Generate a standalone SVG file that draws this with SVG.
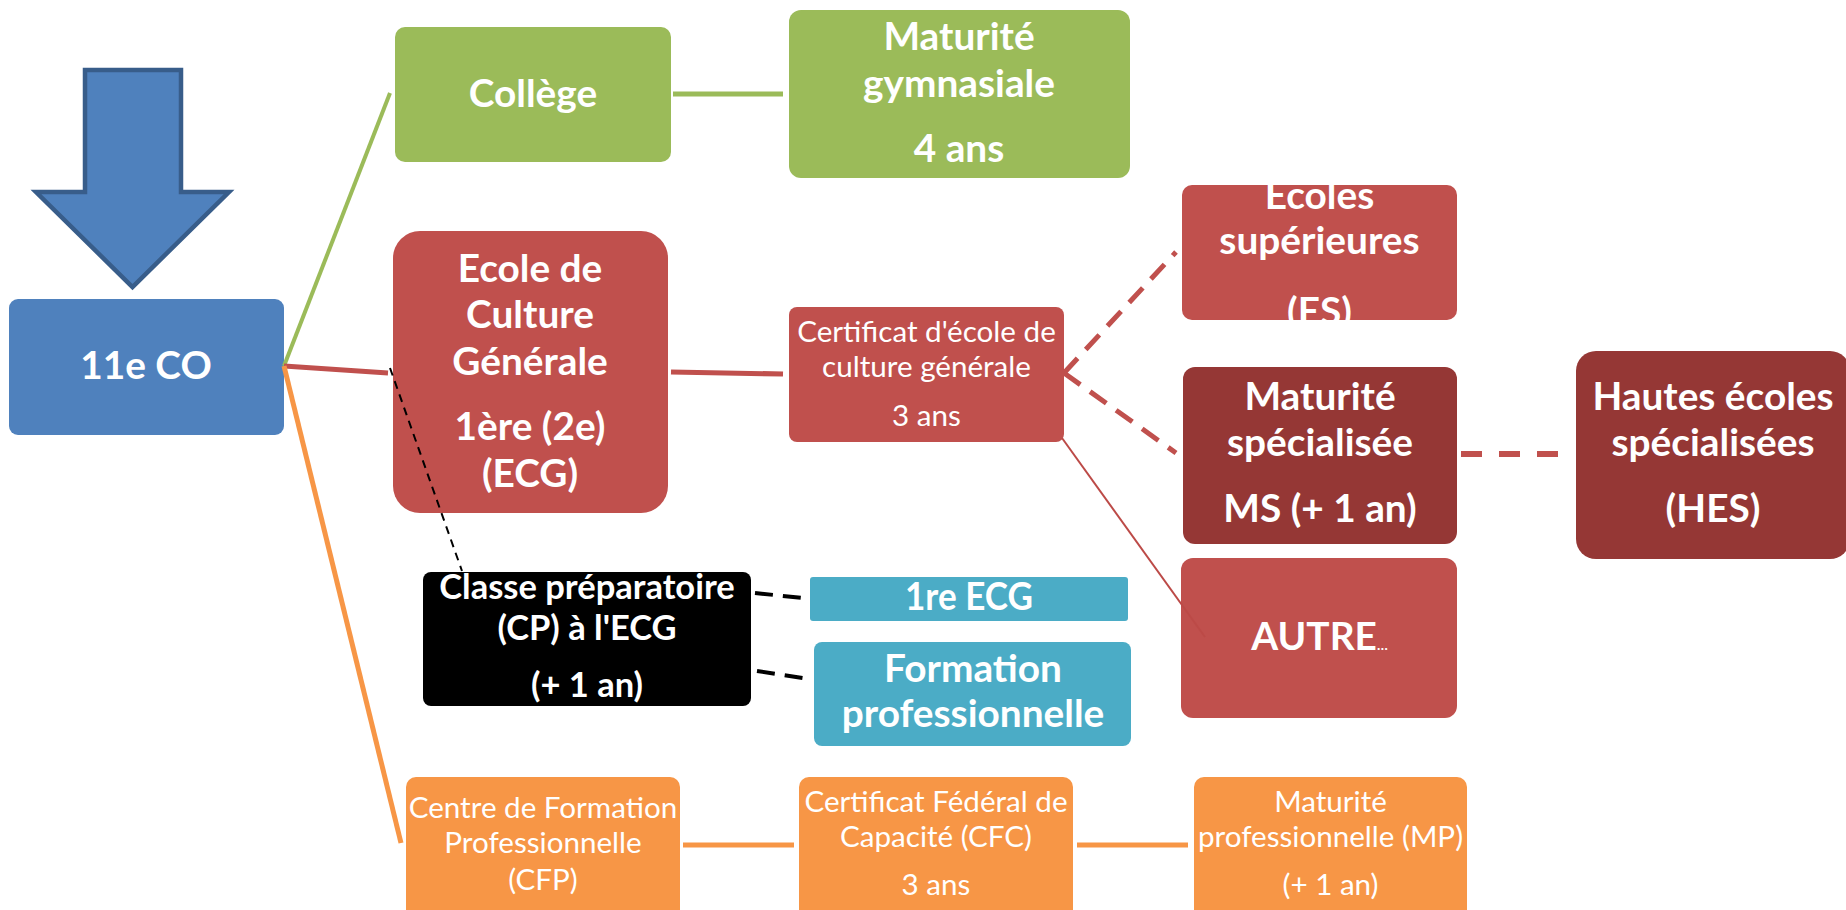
<svg xmlns="http://www.w3.org/2000/svg" width="1846" height="910" viewBox="0 0 1846 910">
<defs>
<style>
.t{font-family:Lato,"Open Sans","Liberation Sans",sans-serif;fill:#fff;text-anchor:middle}
.b{font-weight:bold;font-size:38.8px}
.r{font-weight:normal;font-size:29.6px}
.cp{font-weight:bold;font-size:34.5px}
.ln{fill:none;stroke-linecap:butt}
</style>
<clipPath id="clipES"><rect x="1182" y="185" width="275" height="135" rx="10"/></clipPath>
</defs>
<rect width="1846" height="910" fill="#fff"/>

<g id="arrow">
<polygon points="85,70 181,70 181,192 229,192 132.5,287 36,192 85,192" fill="#4f81bd" stroke="#385d8a" stroke-width="4.5" stroke-linejoin="miter"/>
</g>

<g id="n-11eco">
<rect x="9" y="299" width="275" height="136" rx="9" fill="#4f81bd"/>
<text class="t b" x="146" y="379">11e CO</text>
</g>

<g id="n-college">
<rect x="395" y="27" width="276" height="135" rx="10" fill="#9bbb59"/>
<text class="t b" x="533" y="107">Collège</text>
</g>

<g id="n-matgym">
<rect x="789" y="10" width="341" height="168" rx="12" fill="#9bbb59"/>
<text class="t b" x="959" y="50">Maturité</text>
<text class="t b" x="959" y="97">gymnasiale</text>
<text class="t b" x="959" y="162">4 ans</text>
</g>

<g id="n-ecg">
<rect x="393" y="231" width="275" height="282" rx="27" fill="#c0504d"/>
<text class="t b" x="530" y="282">Ecole de</text>
<text class="t b" x="530" y="328">Culture</text>
<text class="t b" x="530" y="375">Générale</text>
<text class="t b" x="530" y="440">1ère (2e)</text>
<text class="t b" x="530" y="487">(ECG)</text>
</g>

<g id="n-certecg">
<rect x="789" y="307" width="275" height="135" rx="8" fill="#c0504d"/>
<text class="t r" x="926.5" y="342">Certificat d'école de</text>
<text class="t r" x="926.5" y="377">culture générale</text>
<text class="t r" x="926.5" y="426">3 ans</text>
</g>

<g id="n-es">
<rect x="1182" y="185" width="275" height="135" rx="10" fill="#c0504d"/>
<g clip-path="url(#clipES)">
<text class="t b" x="1319.5" y="209">Ecoles</text>
<text class="t b" x="1319.5" y="254">supérieures</text>
<text class="t b" x="1319.5" y="325">(ES)</text>
</g>
</g>

<g id="n-ms">
<rect x="1183" y="367" width="274" height="177" rx="12" fill="#953735"/>
<text class="t b" x="1320" y="410">Maturité</text>
<text class="t b" x="1320" y="456">spécialisée</text>
<text class="t b" x="1320" y="522">MS (+ 1 an)</text>
</g>

<g id="n-hes">
<rect x="1576" y="351" width="274" height="208" rx="20" fill="#953735"/>
<text class="t b" x="1713" y="410">Hautes écoles</text>
<text class="t b" x="1713" y="456">spécialisées</text>
<text class="t b" x="1713" y="522">(HES)</text>
</g>

<g id="n-autre">
<rect x="1181" y="558" width="276" height="160" rx="12" fill="#c0504d"/>
<text class="t b" x="1319.5" y="650">AUTRE<tspan font-size="14">…</tspan></text>
</g>

<g id="n-cp">
<rect x="423" y="572" width="328" height="134" rx="8" fill="#000"/>
<text class="t cp" x="587" y="599">Classe préparatoire</text>
<text class="t cp" x="587" y="640">(CP) à l'ECG</text>
<text class="t cp" x="587" y="697">(+ 1 an)</text>
</g>

<g id="n-1recg">
<rect x="810" y="577" width="318" height="44" rx="3" fill="#4bacc6"/>
<text class="t b" x="969" y="610" textLength="128" lengthAdjust="spacingAndGlyphs">1re ECG</text>
</g>

<g id="n-formpro">
<rect x="814" y="642" width="317" height="104" rx="8" fill="#4bacc6"/>
<text class="t b" x="973" y="682">Formation</text>
<text class="t b" x="973" y="727">professionnelle</text>
</g>

<g id="n-cfp">
<rect x="406" y="777" width="274" height="150" rx="10" fill="#f79646"/>
<text class="t r" x="543" y="818">Centre de Formation</text>
<text class="t r" x="543" y="853">Professionnelle</text>
<text class="t r" x="543" y="890">(CFP)</text>
</g>

<g id="n-cfc">
<rect x="799" y="777" width="274" height="150" rx="10" fill="#f79646"/>
<text class="t r" x="936" y="812">Certificat Fédéral de</text>
<text class="t r" x="936" y="847">Capacité (CFC)</text>
<text class="t r" x="936" y="895">3 ans</text>
</g>

<g id="n-mp">
<rect x="1194" y="777" width="273" height="150" rx="10" fill="#f79646"/>
<text class="t r" x="1330.5" y="812">Maturité</text>
<text class="t r" x="1330.5" y="847">professionnelle (MP)</text>
<text class="t r" x="1330.5" y="895">(+ 1 an)</text>
</g>

<g id="connectors" class="ln">
<line x1="284" y1="366" x2="390" y2="93" stroke="#9bbb59" stroke-width="4"/>
<line x1="284" y1="366" x2="388" y2="373" stroke="#c0504d" stroke-width="5"/>
<line x1="284" y1="366" x2="401" y2="843" stroke="#f79646" stroke-width="5"/>
<line x1="673" y1="94" x2="783" y2="94" stroke="#9bbb59" stroke-width="5"/>
<line x1="671" y1="372" x2="783" y2="374" stroke="#c0504d" stroke-width="5"/>
<line x1="1064" y1="373" x2="1176" y2="252" stroke="#c0504d" stroke-width="5" stroke-dasharray="20 12"/>
<line x1="1064" y1="373" x2="1176" y2="453" stroke="#c0504d" stroke-width="5" stroke-dasharray="20 12"/>
<line x1="1461" y1="454" x2="1559" y2="454" stroke="#c0504d" stroke-width="6" stroke-dasharray="21 17"/>
<line x1="1062" y1="438" x2="1205" y2="637" stroke="#bc4a47" stroke-width="2"/>
<line x1="390" y1="368" x2="462" y2="571" stroke="#000" stroke-width="2" stroke-dasharray="8 6"/>
<line x1="755" y1="593" x2="803" y2="598" stroke="#000" stroke-width="4" stroke-dasharray="18 10"/>
<line x1="757" y1="671" x2="803" y2="678" stroke="#000" stroke-width="4" stroke-dasharray="18 10"/>
<line x1="683" y1="845" x2="794" y2="845" stroke="#f79646" stroke-width="5"/>
<line x1="1077" y1="845" x2="1188" y2="845" stroke="#f79646" stroke-width="5"/>
</g>
</svg>
